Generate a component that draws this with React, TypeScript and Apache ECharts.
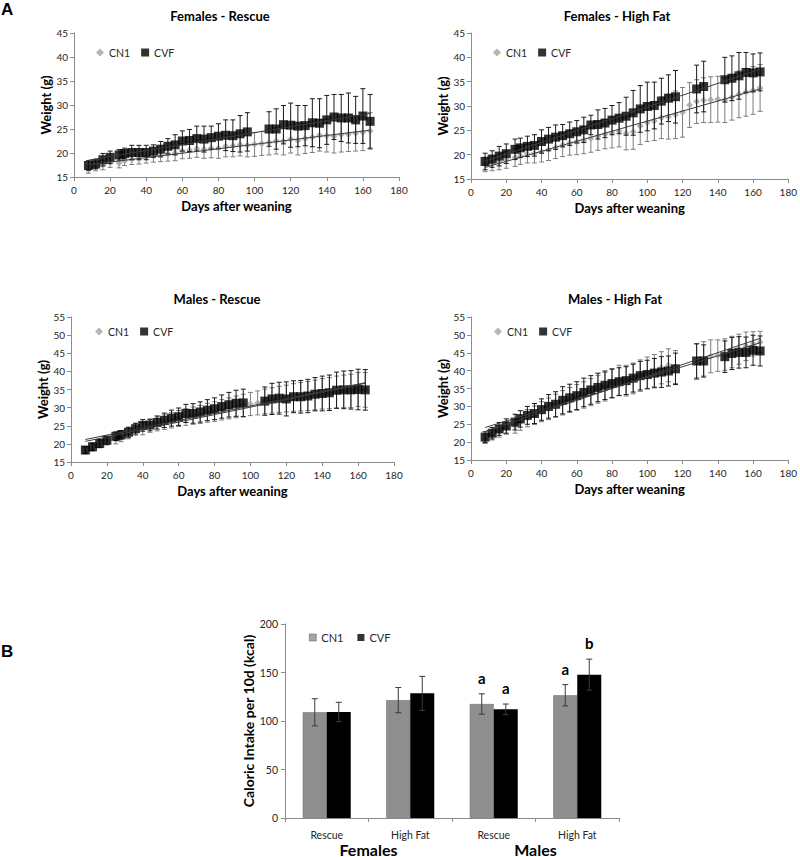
import React, { useEffect, useRef } from "react";
import * as echarts from "echarts";

// ---------- DATA ----------
const days = [8, 12, 16, 20, 25, 28, 32, 36, 40, 44, 48, 52, 56, 60, 64, 68, 72, 76, 80, 84, 88, 92, 96, 100, 104, 108, 112, 116, 120, 124, 128, 132, 136, 140, 144, 148, 152, 156, 160, 164];

const panelTitles = ["Females - Rescue", "Females - High Fat", "Males - Rescue", "Males - High Fat"];
const xTitle = "Days after weaning";
const yTitle = "Weight (g)";

const femRescueCN1 = [16.6, 17.2, 17.5, 18.0, 17.9, 18.4, 18.7, 18.9, 19.2, 19.4, 19.6, 19.8, 20.0, 20.4, 20.6, 20.9, 20.8, 21.0, 21.0, 21.4, 21.5, 21.7, 21.6, 21.8, 22.0, 22.2, 22.5, 22.4, 22.9, 22.6, 23.0, 23.3, 23.7, 23.6, 23.5, 23.8, 23.9, 24.1, 24.3, 24.6];
const femRescueCN1Sd = [0.8, 0.9, 1.0, 1.0, 1.0, 1.0, 1.1, 1.2, 1.3, 1.3, 1.4, 1.5, 1.6, 1.6, 1.7, 1.8, 1.9, 2.0, 2.1, 2.2, 2.3, 2.3, 2.4, 2.5, 2.5, 2.6, 2.7, 2.8, 2.9, 3.0, 3.1, 3.2, 3.3, 3.4, 3.5, 3.6, 3.6, 3.7, 3.8, 3.8];
const femRescueCVF = [17.4, 17.7, 18.6, 19.1, 19.6, 19.9, 20.1, 20.1, 20.1, 20.4, 20.8, 21.4, 21.7, 22.5, 22.6, 23.0, 22.9, 23.2, 23.5, 23.7, 23.6, 24.0, 24.4, null, null, 25.0, 25.0, 25.9, 25.8, 25.6, 25.7, 26.3, 26.2, 26.9, 27.5, 27.3, 27.3, 26.9, 27.7, 26.6];
const femRescueCVFSd = [1.0, 1.0, 1.3, 1.3, 1.1, 1.1, 1.5, 1.5, 1.5, 1.3, 1.6, 1.6, 2.1, 2.1, 2.3, 2.6, 2.7, 2.4, 2.6, 3.2, 3.3, 3.8, 4.0, null, null, 3.6, 4.2, 4.0, 4.6, 4.3, 4.2, 5.0, 5.1, 5.1, 4.7, 4.9, 5.2, 4.9, 5.7, 5.6];

const femHighFatCN1 = [18.0, 18.2, 18.5, 18.9, 19.4, 19.8, 20.2, 20.3, 20.6, 21.0, 21.5, 22.0, 22.4, 22.6, 22.9, 23.3, 23.8, 24.2, 24.5, 24.8, 24.4, 24.7, 25.9, 26.6, 26.9, 27.6, 27.8, 28.2, 28.7, 30.2, 30.9, 31.2, 31.3, 31.4, 31.2, 31.8, 32.4, 32.8, 33.2, 33.7];
const femHighFatCN1Sd = [1.5, 1.5, 1.6, 1.7, 1.8, 1.8, 1.9, 2.0, 2.1, 2.2, 2.3, 2.4, 2.5, 2.6, 2.7, 2.8, 2.9, 3.0, 3.1, 3.2, 3.4, 3.6, 3.8, 3.9, 4.0, 4.3, 4.6, 4.9, 5.1, 4.6, 4.5, 4.6, 4.7, 4.7, 4.6, 4.7, 4.8, 4.9, 4.9, 4.8];
const femHighFatCVF = [18.6, 19.1, 19.7, 20.2, 21.1, 21.4, 21.7, 21.9, 22.7, 23.2, 23.6, 23.9, 24.3, 24.7, 25.1, 26.1, 26.2, 26.5, 27.1, 27.5, 27.9, 28.6, 29.4, 29.9, 30.1, 31.0, 31.6, 31.9, null, null, 33.5, 34.0, null, null, 35.4, 35.7, 36.2, 36.9, 36.8, 37.0];
const femHighFatCVFSd = [1.7, 1.7, 2.0, 2.0, 2.1, 2.0, 2.1, 2.2, 2.4, 2.4, 2.5, 2.3, 2.4, 2.3, 2.6, 2.0, 3.0, 3.0, 3.0, 3.2, 3.9, 4.6, 4.8, 5.0, 4.8, 4.7, 4.8, 5.4, null, null, 4.9, 5.2, null, null, 4.6, 4.6, 4.8, 4.1, 3.9, 3.9];

const maleRescueCN1 = [18.2, 19.0, 20.0, 20.9, 21.3, 22.0, 22.9, 24.0, 24.2, 25.0, 25.5, 26.0, 26.5, 27.0, 27.4, 27.8, 28.1, 28.6, 28.9, 29.4, 29.8, 30.2, 30.6, 31.0, 31.3, 31.7, 32.0, 32.3, 32.5, 32.8, 33.0, 33.2, 33.5, 33.8, 34.0, 34.3, 34.5, 34.6, 35.0, 34.9];
const maleRescueCN1Sd = [0.9, 1.0, 1.1, 1.2, 1.3, 1.4, 1.5, 1.6, 1.7, 1.8, 1.9, 2.0, 2.1, 2.2, 2.3, 2.4, 2.5, 2.6, 2.7, 2.8, 2.9, 3.0, 3.1, 3.2, 3.3, 3.4, 3.5, 3.6, 3.7, 3.8, 3.9, 4.0, 4.1, 4.2, 4.3, 4.4, 4.5, 4.6, 4.7, 4.8];
const maleRescueCVF = [18.3, 19.2, 20.1, 21.0, 22.1, 22.5, 23.2, 24.2, 25.1, 25.2, 25.9, 26.5, 27.1, 27.5, 28.4, 28.4, 28.8, 29.3, 29.7, 30.3, 30.8, 31.2, 31.3, null, null, 31.8, 32.4, 32.6, 32.4, 33.0, 33.0, 33.2, 33.7, 33.9, 34.1, 34.8, 34.9, 34.9, 35.0, 34.9];
const maleRescueCVFSd = [0.9, 1.0, 1.0, 1.1, 1.2, 1.2, 1.4, 1.5, 1.6, 1.6, 1.8, 2.0, 2.2, 2.4, 2.5, 2.7, 2.8, 2.9, 3.0, 3.2, 3.4, 3.6, 3.8, null, null, 3.9, 4.3, 4.4, 4.7, 4.4, 4.5, 4.6, 4.6, 4.8, 4.9, 5.0, 5.2, 5.3, 5.6, 5.6];

const maleHighFatCN1 = [20.8, 22.0, 23.0, 24.0, 24.5, 25.5, 26.7, 27.5, 28.5, 29.3, 30.2, 31.0, 31.8, 32.5, 33.2, 34.0, 34.8, 35.5, 36.5, 37.3, 37.2, 37.8, 38.6, 39.4, 40.0, 40.8, 41.5, 41.0, null, null, 42.5, 43.3, 44.0, 44.2, 44.5, 45.2, 46.0, 46.8, 47.5, 48.0];
const maleHighFatCN1Sd = [1.2, 1.4, 1.6, 1.8, 2.0, 2.2, 2.4, 2.6, 2.8, 3.0, 3.2, 3.4, 3.5, 3.6, 3.7, 3.8, 3.9, 4.0, 4.1, 4.2, 4.3, 4.3, 4.4, 4.4, 4.5, 4.5, 4.6, 4.6, null, null, 5.0, 4.8, 4.6, 4.4, 4.4, 4.4, 4.2, 4.0, 3.4, 3.0];
const maleHighFatCVF = [21.4, 22.5, 23.7, 24.5, 25.6, 26.5, 27.5, 28.0, 29.1, 30.0, 30.6, 31.7, 32.4, 33.0, 33.9, 34.6, 35.3, 35.9, 36.4, 36.9, 37.2, 37.9, 38.6, 38.9, 39.3, 39.6, 39.9, 40.5, null, null, 42.7, 42.7, null, null, 43.9, 44.8, 45.1, 45.1, 45.7, 45.5];
const maleHighFatCVFSd = [1.5, 1.6, 1.8, 2.0, 2.2, 2.3, 2.5, 2.8, 3.0, 3.3, 3.5, 3.8, 3.8, 3.9, 4.0, 4.0, 4.0, 4.0, 4.0, 3.9, 3.9, 3.9, 4.0, 4.0, 4.1, 4.3, 4.2, 4.4, null, null, 4.8, 4.5, null, null, 4.4, 4.5, 4.4, 4.3, 4.2, 4.2];

const barCategories = ["Rescue", "High Fat", "Rescue", "High Fat"];
const barGroups = ["Females", "Males"];
const barCN1 = [109.0, 121.5, 117.5, 126.5];
const barCN1Sd = [14.0, 13.0, 10.5, 11.0];
const barCVF = [109.3, 128.5, 112.0, 147.8];
const barCVFSd = [10.0, 17.5, 5.5, 16.0];
const letterCN1 = ["", "", "a", "a"];
const letterCVF = ["", "", "a", "b"];
const barYTitle = "Caloric Intake per 10d (kcal)";
const seriesNames = ["CN1", "CVF"];

// ---------- STYLE ----------
const FONT = "Lato, 'Open Sans', sans-serif";
const AXIS = "#8c8c8c";
const TXT = "#262626";
const GRAY = "#a3a3a3";
const GRAY_ERR = "#7d7d7d";
const BAR_GRAY = "#8f8f8f";
const BAR_W = 24;

function toPoints(means: (number | null)[]) {
  const out: number[][] = [];
  means.forEach((m, i) => {
    if (m != null) out.push([days[i], m]);
  });
  return out;
}
function toErr(means: (number | null)[], sds: (number | null)[]) {
  const out: number[][] = [];
  means.forEach((m, i) => {
    const s = sds[i];
    if (m != null && s != null) out.push([days[i], m - s, m + s]);
  });
  return out;
}
function trend(pts: number[][]) {
  const n = pts.length;
  let sx = 0, sy = 0, sxx = 0, sxy = 0;
  pts.forEach(([x, y]) => { sx += x; sy += y; sxx += x * x; sxy += x * y; });
  const b = (n * sxy - sx * sy) / (n * sxx - sx * sx);
  const a = (sy - b * sx) / n;
  const x0 = pts[0][0], x1 = pts[n - 1][0];
  return [[x0, a + b * x0], [x1, a + b * x1]];
}

function errRender(color: string) {
  return (params: any, api: any) => {
    const x = api.value(0);
    const top = api.coord([x, api.value(2)]);
    const bot = api.coord([x, api.value(1)]);
    const cw = 2.5;
    const style = { stroke: color, lineWidth: 1, fill: "none" };
    return {
      type: "group",
      children: [
        { type: "line", shape: { x1: top[0], y1: top[1], x2: bot[0], y2: bot[1] }, style },
        { type: "line", shape: { x1: top[0] - cw, y1: top[1], x2: top[0] + cw, y2: top[1] }, style },
        { type: "line", shape: { x1: bot[0] - cw, y1: bot[1], x2: bot[0] + cw, y2: bot[1] }, style },
      ],
    };
  };
}

const panels = [
  { title: panelTitles[0], cn1: femRescueCN1, cn1Sd: femRescueCN1Sd, cvf: femRescueCVF, cvfSd: femRescueCVFSd, yMax: 45,
    grid: { left: 74, top: 33, width: 325, height: 144 }, legend: { left: 96, top: 47 }, titlePos: [220, 16] },
  { title: panelTitles[1], cn1: femHighFatCN1, cn1Sd: femHighFatCN1Sd, cvf: femHighFatCVF, cvfSd: femHighFatCVFSd, yMax: 45,
    grid: { left: 471, top: 33, width: 325, height: 146 }, legend: { left: 493, top: 47 }, titlePos: [617, 16] },
  { title: panelTitles[2], cn1: maleRescueCN1, cn1Sd: maleRescueCN1Sd, cvf: maleRescueCVF, cvfSd: maleRescueCVFSd, yMax: 55,
    grid: { left: 71, top: 317, width: 323, height: 145 }, legend: { left: 95, top: 326 }, titlePos: [217, 299] },
  { title: panelTitles[3], cn1: maleHighFatCN1, cn1Sd: maleHighFatCN1Sd, cvf: maleHighFatCVF, cvfSd: maleHighFatCVFSd, yMax: 55,
    grid: { left: 471, top: 317, width: 323, height: 143 }, legend: { left: 494, top: 326 }, titlePos: [615, 299] },
];

function buildOption() {
  const grid: any[] = [];
  const xAxis: any[] = [];
  const yAxis: any[] = [];
  const series: any[] = [];
  const legend: any[] = [];
  const graphic: any[] = [];

  const axisLabel = { color: TXT, fontSize: 10, fontFamily: FONT };
  const axisLine = { show: true, lineStyle: { color: AXIS, width: 1 } };
  const axisTick = { show: true, inside: false, length: 4, lineStyle: { color: AXIS } };
  const nameStyle = { fontFamily: FONT, fontSize: 13, fontWeight: "bold", color: "#000" };

  panels.forEach((p, i) => {
    grid.push({ ...p.grid });
    xAxis.push({
      type: "value", gridIndex: i, min: 0, max: 180, interval: 20,
      axisLine, axisTick, axisLabel: { ...axisLabel, margin: 8 }, splitLine: { show: false },
      name: xTitle, nameLocation: "middle", nameGap: 22, nameTextStyle: nameStyle,
    });
    yAxis.push({
      type: "value", gridIndex: i, min: 15, max: p.yMax, interval: 5,
      axisLine, axisTick, axisLabel: { ...axisLabel, margin: 6 }, splitLine: { show: false },
      name: yTitle, nameLocation: "middle", nameGap: 22, nameTextStyle: nameStyle,
    });
    const cn1Pts = toPoints(p.cn1);
    const cvfPts = toPoints(p.cvf);
    series.push({
      type: "custom", name: "errCN1", xAxisIndex: i, yAxisIndex: i, z: 2,
      data: toErr(p.cn1, p.cn1Sd), encode: { x: 0, y: [1, 2] }, renderItem: errRender(GRAY_ERR),
    });
    series.push({
      type: "scatter", name: seriesNames[0], xAxisIndex: i, yAxisIndex: i, z: 3,
      symbol: "diamond", symbolSize: 7, itemStyle: { color: GRAY }, data: cn1Pts,
    });
    series.push({
      type: "custom", name: "errCVF", xAxisIndex: i, yAxisIndex: i, z: 4,
      data: toErr(p.cvf, p.cvfSd), encode: { x: 0, y: [1, 2] }, renderItem: errRender("#1a1a1a"),
    });
    series.push({
      type: "scatter", name: seriesNames[1], xAxisIndex: i, yAxisIndex: i, z: 5,
      symbol: "rect", symbolSize: 9, itemStyle: { color: "#000" }, data: cvfPts,
    });
    [cn1Pts, cvfPts].forEach((pts) => {
      series.push({
        type: "line", xAxisIndex: i, yAxisIndex: i, z: 6, symbol: "none", silent: true,
        lineStyle: { color: "#3c3c3c", width: 1 }, data: trend(pts),
      });
    });
    legend.push({
      left: p.legend.left, top: p.legend.top, padding: 0, itemGap: 11, itemWidth: 8, itemHeight: 8,
      selectedMode: false, textStyle: { fontFamily: FONT, fontSize: 10.5, color: TXT },
      data: [
        { name: seriesNames[0], icon: "diamond", itemStyle: { color: GRAY } },
        { name: seriesNames[1], icon: "rect", itemStyle: { color: "#000" } },
      ],
    });
    graphic.push({
      type: "text", x: p.titlePos[0], y: p.titlePos[1],
      style: { text: p.title, fill: "#000", font: `bold 13px ${FONT}`, textAlign: "center", textVerticalAlign: "middle", align: "center", verticalAlign: "middle" },
    });
  });

  // ----- bar chart -----
  const bi = 4;
  grid.push({ left: 285, top: 624, width: 334, height: 195 });
  xAxis.push({
    type: "category", gridIndex: bi, data: barCategories,
    axisLine, axisTick: { show: true, length: 4, lineStyle: { color: AXIS } },
    axisLabel: { ...axisLabel, fontSize: 10.5, margin: 11 },
  });
  xAxis.push({
    type: "category", gridIndex: bi, data: barGroups, position: "bottom",
    axisLine: { show: false }, axisTick: { show: false },
    axisLabel: { fontFamily: FONT, fontSize: 16, fontWeight: "bold", color: "#000", margin: 23 },
  });
  yAxis.push({
    type: "value", gridIndex: bi, min: 0, max: 200, interval: 50,
    axisLine, axisTick, axisLabel: { ...axisLabel, fontSize: 10.5, margin: 7 }, splitLine: { show: false },
    name: barYTitle, nameLocation: "middle", nameGap: 26,
    nameTextStyle: { fontFamily: FONT, fontSize: 14, fontWeight: "bold", color: "#000" },
  });
  series.push({
    type: "bar", name: seriesNames[0], xAxisIndex: 4, yAxisIndex: bi, barWidth: BAR_W, barGap: "0%",
    itemStyle: { color: BAR_GRAY, borderColor: "#707070", borderWidth: 0.6 }, data: barCN1,
  });
  series.push({
    type: "bar", name: seriesNames[1], xAxisIndex: 4, yAxisIndex: bi, barWidth: BAR_W, barGap: "0%",
    itemStyle: { color: "#000" }, data: barCVF,
  });
  const barErr = (means: number[], sds: number[], letters: string[], dir: number) => ({
    type: "custom", xAxisIndex: 4, yAxisIndex: bi, z: 5,
    data: means.map((m, i) => [i, m - sds[i], m + sds[i]]),
    encode: { x: 0, y: [1, 2] },
    renderItem: (params: any, api: any) => {
      const idx = api.value(0);
      const top = api.coord([idx, api.value(2)]);
      const bot = api.coord([idx, api.value(1)]);
      const x = top[0] + (dir * BAR_W) / 2;
      const cw = 3;
      const style = { stroke: "#3a3a3a", lineWidth: 1, fill: "none" };
      const children: any[] = [
        { type: "line", shape: { x1: x, y1: top[1], x2: x, y2: bot[1] }, style },
        { type: "line", shape: { x1: x - cw, y1: top[1], x2: x + cw, y2: top[1] }, style },
        { type: "line", shape: { x1: x - cw, y1: bot[1], x2: x + cw, y2: bot[1] }, style },
      ];
      const letter = letters[params.dataIndex];
      if (letter) {
        children.push({
          type: "text", x, y: top[1] - 16,
          style: { text: letter, fill: "#000", font: `bold 15px ${FONT}`, align: "center", verticalAlign: "middle" },
        });
      }
      return { type: "group", children };
    },
  });
  series.push(barErr(barCN1, barCN1Sd, letterCN1, -1));
  series.push(barErr(barCVF, barCVFSd, letterCVF, 1));
  legend.push({
    left: 309, top: 632, padding: 0, itemGap: 14, itemWidth: 7, itemHeight: 7, selectedMode: false,
    textStyle: { fontFamily: FONT, fontSize: 11, color: TXT },
    data: [
      { name: seriesNames[0], icon: "rect", itemStyle: { color: BAR_GRAY, borderColor: "#555", borderWidth: 0.6 } },
      { name: seriesNames[1], icon: "rect", itemStyle: { color: "#000" } },
    ],
  });

  graphic.push({ type: "text", x: 1, y: 1, style: { text: "A", fill: "#000", font: "bold 17px 'Liberation Sans', Arial, sans-serif" } });
  graphic.push({ type: "text", x: 1, y: 643, style: { text: "B", fill: "#000", font: "bold 17px 'Liberation Sans', Arial, sans-serif" } });

  return { animation: false, backgroundColor: "#fff", grid, xAxis, yAxis, series, legend, graphic };
}

export default function App() {
  const ref = useRef<HTMLDivElement>(null);
  useEffect(() => {
    if (!ref.current) return;
    const chart = echarts.init(ref.current, null, { renderer: "svg" });
    chart.setOption(buildOption() as any);
    return () => chart.dispose();
  }, []);
  return <div ref={ref} style={{ position: "absolute", left: 0, top: 0, width: 800, height: 857, background: "#fff" }} />;
}
